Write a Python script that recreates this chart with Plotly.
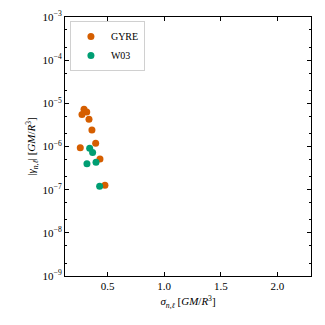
import plotly.graph_objects as go

gyre_sigma = [0.291, 0.315, 0.273, 0.335, 0.361, 0.394, 0.258, 0.432, 0.476]
gyre_gamma = [7.3e-6, 6.3e-6, 5.5e-6, 4.3e-6, 2.4e-6, 1.19e-6, 9.4e-7, 5.1e-7, 1.26e-7]
w03_sigma = [0.341, 0.367, 0.397, 0.317, 0.429]
w03_gamma = [9.1e-7, 7.3e-7, 4.3e-7, 4.0e-7, 1.20e-7]

x_ticks = [0.5, 1.0, 1.5, 2.0]
x_ticktext = ["0.5", "1.0", "1.5", "2.0"]
y_exps = [-9, -8, -7, -6, -5, -4, -3]

FONT = "Liberation Serif, Times New Roman, serif"

fig = go.Figure()
fig.add_trace(go.Scatter(x=gyre_sigma, y=gyre_gamma, mode="markers", name="GYRE",
                         marker=dict(color="#D55E00", size=7, line=dict(width=0))))
fig.add_trace(go.Scatter(x=w03_sigma, y=w03_gamma, mode="markers", name="W03",
                         marker=dict(color="#009E73", size=7, line=dict(width=0))))

fig.update_layout(
    width=317, height=317,
    margin=dict(l=57, r=14, t=9, b=49, autoexpand=False),
    paper_bgcolor="white", plot_bgcolor="white",
    font=dict(family=FONT, size=11, color="black"),
    showlegend=True,
    legend=dict(x=0.02, y=0.985, xanchor="left", yanchor="top",
                bordercolor="#d0d0d0", borderwidth=1, bgcolor="white",
                font=dict(family=FONT, size=10), itemwidth=30,
                tracegroupgap=0),
    xaxis=dict(range=[0.123, 2.297], tickvals=x_ticks, ticktext=x_ticktext,
               ticks="inside", ticklen=4, tickcolor="black", automargin=False,
               tickfont=dict(size=11),
               showline=True, linecolor="black", linewidth=1, mirror="allticks",
               showgrid=False, zeroline=False,
               title=dict(text="<i>σ<sub>n,ℓ</sub></i> [<i>GM</i>/<i>R</i><sup>3</sup>]",
                          standoff=6, font=dict(size=11))),
    yaxis=dict(type="log", range=[-9, -3],
               tickvals=[10.0 ** e for e in y_exps],
               ticktext=["10<sup>−%d</sup>" % (-e) for e in y_exps],
               ticks="inside", ticklen=4, tickcolor="black", automargin=False,
               tickfont=dict(size=11),
               minor=dict(ticks="inside", ticklen=2, tickcolor="black", showgrid=False),
               showline=True, linecolor="black", linewidth=1, mirror="allticks",
               showgrid=False, zeroline=False,
               title=dict(text="|<i>γ<sub>n,ℓ</sub></i>| [<i>GM</i>/<i>R</i><sup>3</sup>]",
                          standoff=4, font=dict(size=11))),
)

fig.write_html("out.html")
